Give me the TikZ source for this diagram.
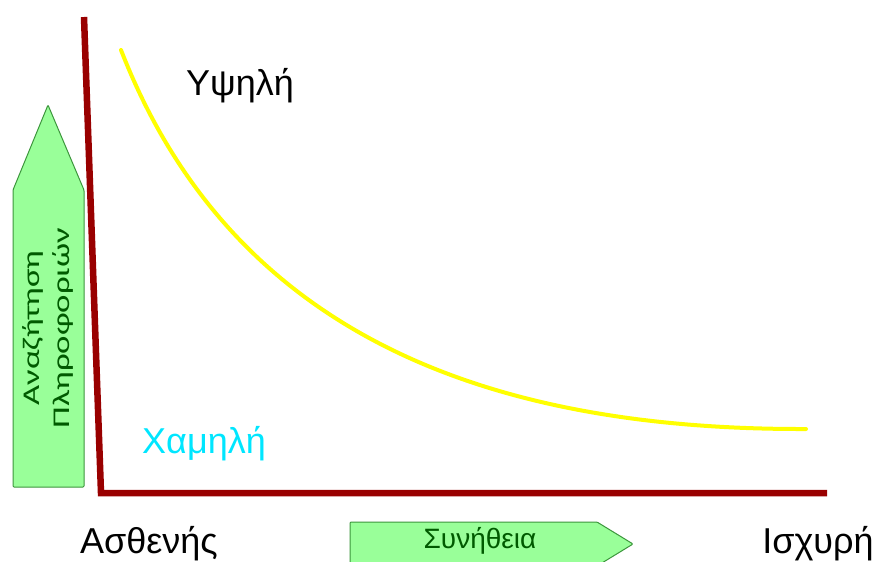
\documentclass[tikz,border=0pt]{standalone}
\usepackage{fontspec}
\setmainfont{Liberation Sans}
\newfontfamily\calfont{Carlito}
\definecolor{axisred}{RGB}{153,0,0}
\definecolor{curveyel}{RGB}{255,255,0}
\definecolor{arrfill}{RGB}{153,255,153}
\definecolor{arrdraw}{RGB}{60,150,60}
\definecolor{arrtext}{RGB}{0,90,0}
\definecolor{lowcyan}{RGB}{0,230,255}
\tikzset{
  axisline/.style={draw=axisred,line width=6.5pt},
  greenarrow/.style={fill=arrfill,draw=arrdraw,line width=1pt,rounded corners=1pt},
  biglabel/.style={font=\fontsize{36}{40}\selectfont,inner sep=0pt},
}
\begin{document}
\begin{tikzpicture}[x=1pt,y=-1pt]
\useasboundingbox (0,0) rectangle (879,562);
\clip (0,0) rectangle (879,562);
% green arrows
\path[greenarrow] (13,487) -- (84,487) -- (84,190) -- (48,105) -- (13,190) -- cycle;
\node[rotate=90,align=center,text=arrtext,font=\calfont\fontsize{24}{30}\selectfont,inner sep=0pt] (search) at (48,328) {\scalebox{1.45}[1]{Αναζήτηση}\\\scalebox{1.45}[1]{Πληροφοριών}};
\path[greenarrow] (350,565) -- (350,522) -- (597,522) -- (633,544) -- (597,566);
\node[text=arrtext,font=\fontsize{28}{32}\selectfont,inner sep=0pt] (habit) at (480,541) {Συνήθεια};
% axes
\coordinate (top) at (84,17);
\coordinate (origin) at (101,493);
\coordinate (right) at (827,493);
\draw[axisline] (top) -- (origin) -- (right);
% curve
\coordinate (cstart) at (121,50);
\coordinate (cend) at (806,429);
\draw[draw=curveyel,line width=4pt,line cap=round] (cstart) .. controls (230,330) and (480,430) .. (cend);
% labels
\node[biglabel] (high) at (240,86) {Υψηλή};
\node[biglabel,text=lowcyan] (low) at (204,444) {Χαμηλή};
\node[biglabel] (weak) at (149,544) {Ασθενής};
\node[biglabel] (strong) at (818,544) {Ισχυρή};
\end{tikzpicture}
\end{document}
